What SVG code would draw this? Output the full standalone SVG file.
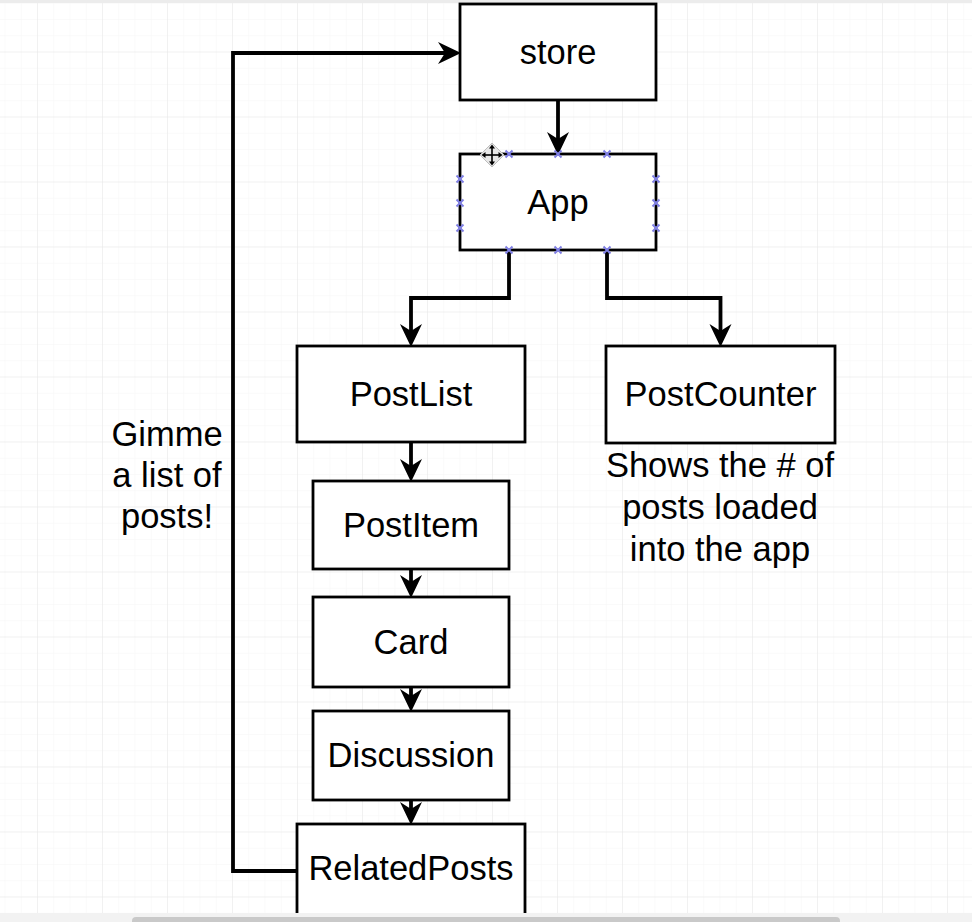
<svg xmlns="http://www.w3.org/2000/svg" width="972" height="922" viewBox="0 0 972 922">
  <defs>
    <pattern id="minor" x="37" y="51.5" width="16.25" height="16.25" patternUnits="userSpaceOnUse">
      <path d="M0,0 V16.25 M0,0 H16.25" fill="none" stroke="#f5f5f5" stroke-width="1"/>
    </pattern>
    <pattern id="major" x="37" y="51.5" width="65" height="65" patternUnits="userSpaceOnUse">
      <path d="M0,0 V65 M0,0 H65" fill="none" stroke="#e8e8e8" stroke-width="1"/>
    </pattern>
    <marker id="arrow" markerUnits="userSpaceOnUse" markerWidth="24" markerHeight="24" viewBox="0 0 24 24" refX="7" refY="11.5" orient="auto">
      <path d="M23,11.5 L0,0.5 L7,11.5 L0,22.5 Z" fill="#000"/>
    </marker>
  </defs>
  <style>
    .box { fill: #ffffff; stroke: #000000; stroke-width: 2.8; }
    .lbl { font-family: "Liberation Sans", Arial, Helvetica, sans-serif; font-size: 34.5px; fill: #000; text-anchor: middle; }
    .edge { fill: none; stroke: #000; stroke-width: 3.8; marker-end: url(#arrow); }
    .handle { stroke: #8080e4; stroke-width: 2; fill: none; }
  </style>

  <!-- background -->
  <rect x="0" y="0" width="972" height="922" fill="#ffffff"/>
  <rect x="0" y="0" width="972" height="922" fill="url(#minor)"/>
  <rect x="0" y="0" width="972" height="922" fill="url(#major)"/>
  <rect x="0" y="0" width="972" height="3" fill="#ececec"/>

  <!-- connectors -->
  <g id="connectors">
    <path class="edge" d="M297,871 H233 V53 H445"/>
    <path class="edge" d="M558,100 V139"/>
    <path class="edge" d="M509,250 V298 H411 V331"/>
    <path class="edge" d="M607,250 V298 H720.5 V331"/>
    <path class="edge" d="M411,442 V466"/>
    <path class="edge" d="M411,569 V582"/>
    <path class="edge" d="M411,687 V696"/>
    <path class="edge" d="M411,800 V809"/>
  </g>

  <g id="store">
    <rect class="box" x="460" y="4" width="196" height="96"/>
    <text class="lbl" x="558" y="64">store</text>
  </g>

  <g id="app">
    <rect class="box" x="460" y="154" width="196" height="96"/>
    <text class="lbl" x="558" y="214">App</text>
    <g class="handle">
      <path d="M505.5,150.5 l7,7 M512.5,150.5 l-7,7"/>
      <path d="M554.5,150.5 l7,7 M561.5,150.5 l-7,7"/>
      <path d="M603.5,150.5 l7,7 M610.5,150.5 l-7,7"/>
      <path d="M505.5,246.5 l7,7 M512.5,246.5 l-7,7"/>
      <path d="M554.5,246.5 l7,7 M561.5,246.5 l-7,7"/>
      <path d="M603.5,246.5 l7,7 M610.5,246.5 l-7,7"/>
      <path d="M456.5,175.5 l7,7 M463.5,175.5 l-7,7"/>
      <path d="M456.5,199.5 l7,7 M463.5,199.5 l-7,7"/>
      <path d="M456.5,224.5 l7,7 M463.5,224.5 l-7,7"/>
      <path d="M652.5,175.5 l7,7 M659.5,175.5 l-7,7"/>
      <path d="M652.5,199.5 l7,7 M659.5,199.5 l-7,7"/>
      <path d="M652.5,224.5 l7,7 M659.5,224.5 l-7,7"/>
    </g>
  </g>

  <g id="move-cursor">
    <path d="M492,143 L504,155 L492,167 L480,155 Z" fill="#e8e8e8" stroke="#bdbdbd" stroke-width="1"/>
    <g fill="#000" stroke="none">
      <rect x="491.2" y="147" width="1.6" height="16"/>
      <rect x="484" y="154.2" width="16" height="1.6"/>
      <path d="M492,144.5 L495,148.5 L489,148.5 Z"/>
      <path d="M492,165.5 L495,161.5 L489,161.5 Z"/>
      <path d="M481.5,155 L485.5,152 L485.5,158 Z"/>
      <path d="M502.5,155 L498.5,152 L498.5,158 Z"/>
    </g>
  </g>

  <g id="postlist">
    <rect class="box" x="297" y="346" width="228" height="96"/>
    <text class="lbl" x="411" y="406">PostList</text>
  </g>

  <g id="postcounter">
    <rect class="box" x="606" y="346" width="229" height="97"/>
    <text class="lbl" x="720.5" y="406">PostCounter</text>
  </g>

  <g id="postcounter-note">
    <text class="lbl" x="720" y="477">Shows the # of</text>
    <text class="lbl" x="720" y="519">posts loaded</text>
    <text class="lbl" x="720" y="561">into the app</text>
  </g>

  <g id="gimme-note">
    <text class="lbl" x="167" y="446">Gimme</text>
    <text class="lbl" x="167" y="487">a list of</text>
    <text class="lbl" x="167" y="528">posts!</text>
  </g>

  <g id="postitem">
    <rect class="box" x="313" y="481" width="196" height="88"/>
    <text class="lbl" x="411" y="537">PostItem</text>
  </g>

  <g id="card">
    <rect class="box" x="313" y="597" width="196" height="90"/>
    <text class="lbl" x="411" y="654">Card</text>
  </g>

  <g id="discussion">
    <rect class="box" x="313" y="711" width="196" height="89"/>
    <text class="lbl" x="411" y="767">Discussion</text>
  </g>

  <g id="relatedposts">
    <rect class="box" x="297" y="824" width="228" height="96"/>
    <text class="lbl" x="411" y="880">RelatedPosts</text>
  </g>

  <!-- scrollbar strip -->
  <rect x="0" y="913" width="972" height="9" fill="#f2f2f2"/>
  <rect x="132" y="917" width="708" height="8" rx="4" fill="#c9c9c9"/>
</svg>
